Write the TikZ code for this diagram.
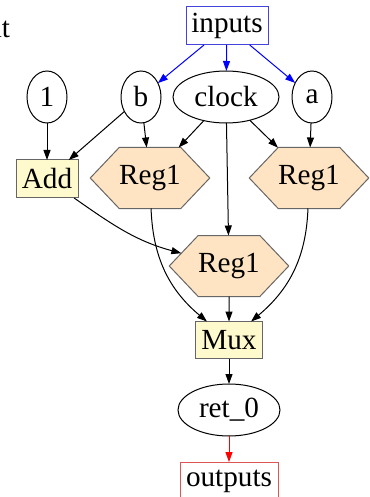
\documentclass[tikz,border=0pt]{standalone}
\usepackage{fontspec}
\setmainfont{Liberation Serif}
\usetikzlibrary{shapes.geometric,shapes.symbols,arrows.meta}
\definecolor{lemon}{HTML}{FFFACD}
\definecolor{peach}{HTML}{FFE4C4}
\definecolor{frame}{HTML}{666666}
\definecolor{inblue}{HTML}{4444DD}
\definecolor{outred}{HTML}{DD5555}
\begin{document}
\begin{tikzpicture}[x=0.5pt,y=-0.5pt,
  font=\fontsize{14.6}{16}\selectfont,
  every node/.style={inner sep=0pt, outer sep=0pt},
  var/.style={draw=black, ellipse, minimum height=26pt, line width=0.5pt},
  io/.style={draw, rectangle, minimum height=19pt, line width=0.5pt},
  op/.style={draw=frame, fill=lemon, rectangle, minimum height=19pt, line width=0.5pt},
  reg/.style={draw=frame, fill=peach, signal, signal to=east and west,
    signal pointer angle=93, minimum width=59pt, minimum height=30.5pt, line width=0.5pt},
  wire/.style={-{Triangle[length=5pt,width=3.5pt]}, line width=0.5pt},
  inwire/.style={wire, blue},
  outwire/.style={wire, red}]
\useasboundingbox (0,0) rectangle (369,497);

% clipped graph label at the left edge
\node[anchor=base east] (lbl) at (10,38) {ut};

% inputs and constants
\node[io, draw=inblue, minimum width=41pt] (inputs) at (227,26) {inputs};
\node[var, minimum width=20pt] (one) at (47,97) {1};
\node[var, minimum width=20pt] (b) at (141,97) {b};
\node[var, minimum width=53pt] (clock) at (226,97) {clock};
\node[var, minimum width=20pt] (a) at (312,97) {a};

% operators and registers
\node[op, minimum width=31pt] (add) at (47,179) {Add};
\node[reg] (regl) at (150,178) {Reg1};
\node[reg] (regr) at (309,178) {Reg1};
\node[reg] (regm) at (229,266) {Reg1};
\node[op, minimum width=33.5pt, minimum height=18.5pt] (mux) at (229,340) {Mux};

% result and outputs
\node[var, minimum width=51pt] (ret) at (229,410) {ret\_0};
\node[io, draw=outred, minimum width=49pt] (outputs) at (229,481) {outputs};

% connections
\draw[inwire] (inputs) -- (b);
\draw[inwire] (inputs) -- (clock);
\draw[inwire] (inputs) -- (a);

\draw[wire] (one) -- (add);
\draw[wire] (b) -- (add);
\draw[wire] (b) -- (regl);
\draw[wire] (clock) -- (regl);
\draw[wire] (clock) -- (regm);
\draw[wire] (clock) -- (regr);
\draw[wire] (a) -- (regr);

\draw[wire] (add) to[out=-35, in=165] (regm);
\draw[wire] (regl) to[out=-88, in=140] (mux);
\draw[wire] (regm) -- (mux);
\draw[wire] (regr) to[out=-92, in=40] (mux);

\draw[wire] (mux) -- (ret);
\draw[outwire] (ret) -- (outputs);
\end{tikzpicture}
\end{document}
